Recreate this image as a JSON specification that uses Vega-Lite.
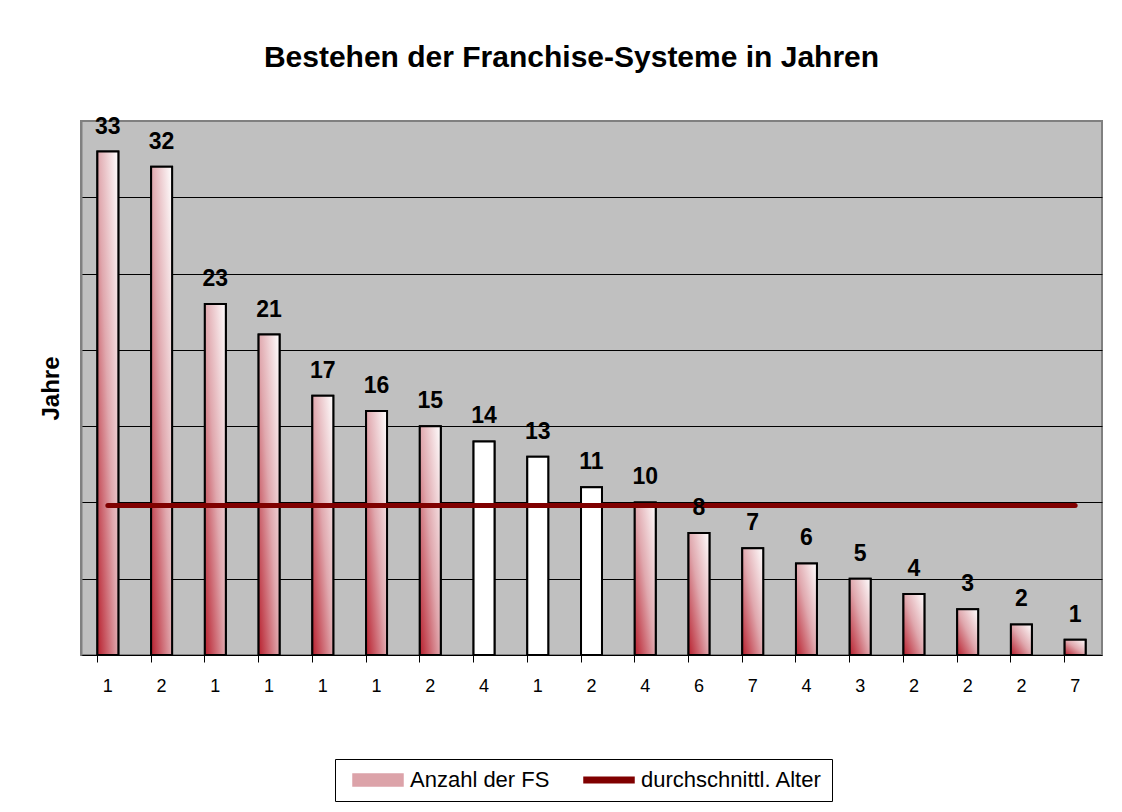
{
  "$schema": "https://vega.github.io/schema/vega-lite/v6.json",
  "width": 1021,
  "height": 534,
  "autosize": {"type": "none"},
  "padding": {"left": 81, "top": 121, "right": 20, "bottom": 157},
  "background": "#ffffff",
  "title": {
    "text": "Bestehen der Franchise-Systeme in Jahren",
    "font": "Liberation Sans",
    "fontSize": 30,
    "fontWeight": "bold",
    "color": "#000000",
    "anchor": "middle",
    "dx": -20,
    "baseline": "alphabetic",
    "offset": 19
  },
  "data": {
    "values": [
      {"jahre": 33, "anzahl": 1},
      {"jahre": 32, "anzahl": 2},
      {"jahre": 23, "anzahl": 1},
      {"jahre": 21, "anzahl": 1},
      {"jahre": 17, "anzahl": 1},
      {"jahre": 16, "anzahl": 1},
      {"jahre": 15, "anzahl": 2},
      {"jahre": 14, "anzahl": 4},
      {"jahre": 13, "anzahl": 1},
      {"jahre": 11, "anzahl": 2},
      {"jahre": 10, "anzahl": 4},
      {"jahre": 8, "anzahl": 6},
      {"jahre": 7, "anzahl": 7},
      {"jahre": 6, "anzahl": 4},
      {"jahre": 5, "anzahl": 3},
      {"jahre": 4, "anzahl": 2},
      {"jahre": 3, "anzahl": 2},
      {"jahre": 2, "anzahl": 2},
      {"jahre": 1, "anzahl": 7}
    ]
  },
  "encoding": {
    "x": {
      "field": "jahre",
      "type": "ordinal",
      "sort": "descending",
      "scale": {"paddingInner": 0.61, "paddingOuter": 0.305},
      "axis": {
        "title": null,
        "labels": false,
        "grid": false,
        "bandPosition": 0,
        "domainColor": "#000000",
        "domainWidth": 1,
        "tickColor": "#000000",
        "tickSize": 7,
        "tickWidth": 1
      }
    }
  },
  "layer": [
    {
      "mark": {"type": "bar", "stroke": "#000000", "strokeWidth": 2},
      "encoding": {
        "y": {
          "field": "jahre",
          "type": "quantitative",
          "stack": null,
          "scale": {"domain": [0, 35], "nice": false},
          "axis": {
            "title": "Jahre",
            "titleFont": "Liberation Sans",
            "titleFontSize": 24,
            "titleFontWeight": "bold",
            "titleColor": "#000000",
            "titlePadding": 18,
            "labels": false,
            "ticks": false,
            "values": [5, 10, 15, 20, 25, 30],
            "grid": true,
            "gridColor": "#000000",
            "gridWidth": 1,
            "gridOpacity": 1,
            "domainColor": "#808080",
            "domainWidth": 2
          }
        },
        "color": {
          "datum": "Anzahl der FS",
          "type": "nominal",
          "scale": {
            "domain": ["Anzahl der FS", "durchschnittl. Alter"],
            "range": ["#dca3a9", "#800000"]
          },
          "legend": {
            "title": null,
            "orient": "none",
            "legendX": 254,
            "legendY": 638,
            "direction": "horizontal",
            "labelFont": "Liberation Sans",
            "labelFontSize": 22,
            "labelColor": "#000000",
            "labelOffset": 43,
            "labelLimit": 400,
            "symbolSize": 400,
            "columnPadding": 26,
            "padding": 10,
            "strokeColor": "#000000",
            "fillColor": "#ffffff",
            "encode": {
              "symbols": {
                "update": {
                  "shape": [
                    {"test": "datum.value === 'Anzahl der FS'", "value": "M-0.3,-0.6H4.7V0.6H-0.3Z"},
                    {"value": "M-0.3,-0.28H4.7V0.28H-0.3Z"}
                  ],
                  "opacity": {"value": 1}
                }
              }
            }
          }
        }
      }
    },
    {
      "mark": {"type": "bar", "stroke": "#000000", "strokeWidth": 2},
      "encoding": {
        "y": {"field": "jahre", "type": "quantitative", "stack": null},
        "fill": {
          "condition": {"test": "datum.jahre >= 11 && datum.jahre <= 14", "value": "#ffffff"},
          "value": {"gradient": "linear", "x1": 0, "y1": 1, "x2": 1, "y2": 0, "stops": [{"offset": 0, "color": "#b8202e"}, {"offset": 0.5, "color": "#e0a8ae"}, {"offset": 1, "color": "#ffffff"}]}
        }
      }
    },
    {
      "mark": {"type": "line", "strokeWidth": 5, "strokeCap": "round"},
      "encoding": {
        "y": {"datum": 9.8, "type": "quantitative"},
        "color": {
          "datum": "durchschnittl. Alter",
          "type": "nominal",
          "legend": {
            "title": null,
            "orient": "none",
            "legendX": 254,
            "legendY": 638,
            "direction": "horizontal",
            "labelFont": "Liberation Sans",
            "labelFontSize": 22,
            "labelColor": "#000000",
            "labelOffset": 43,
            "labelLimit": 400,
            "symbolSize": 400,
            "columnPadding": 26,
            "padding": 10,
            "strokeColor": "#000000",
            "fillColor": "#ffffff",
            "encode": {
              "symbols": {
                "update": {
                  "shape": [
                    {"test": "datum.value === 'Anzahl der FS'", "value": "M-0.3,-0.6H4.7V0.6H-0.3Z"},
                    {"value": "M-0.3,-0.28H4.7V0.28H-0.3Z"}
                  ],
                  "opacity": {"value": 1}
                }
              }
            }
          }
        }
      }
    },
    {
      "mark": {"type": "text", "font": "Liberation Sans", "fontSize": 23, "fontWeight": "bold", "color": "#000000", "baseline": "alphabetic", "dy": -18},
      "encoding": {
        "y": {"field": "jahre", "type": "quantitative"},
        "text": {"field": "jahre", "type": "quantitative"}
      }
    },
    {
      "mark": {"type": "text", "font": "Liberation Sans", "fontSize": 18, "color": "#000000", "baseline": "alphabetic", "dy": 37},
      "encoding": {
        "y": {"datum": 0, "type": "quantitative"},
        "text": {"field": "anzahl", "type": "quantitative"}
      }
    }
  ],
  "config": {
    "view": {"fill": "#c0c0c0", "stroke": "#808080", "strokeWidth": 2},
    "axis": {"labelFont": "Liberation Sans"}
  }
}
